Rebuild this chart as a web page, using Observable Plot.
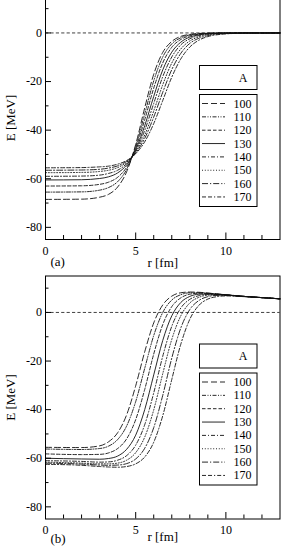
<!DOCTYPE html>
<html>
<head>
<meta charset="utf-8">
<script src="https://cdn.jsdelivr.net/npm/d3@7"></script>
<script src="https://cdn.jsdelivr.net/npm/@observablehq/plot@0.6"></script>
<style>
  html, body { margin: 0; padding: 0; background: #fff; }
  #fig { position: relative; width: 283px; height: 548px; overflow: hidden; background: #fff; }
  #fig .panel { position: absolute; left: 0; }
  #fig svg.legend { position: absolute; left: 0; top: 0; pointer-events: none; }
</style>
</head>
<body>
<div id="fig"></div>
<script>
// Mass numbers of the nuclei, one curve each
const massNumbers = [100, 110, 120, 130, 140, 150, 160, 170];

// Radial grid (fm) of the tabulated potentials
const radiiA = [0, 2, 3, 3.5, 4, 4.5, 5, 5.5, 6, 6.5, 7, 7.5, 8, 8.5, 9, 10, 11, 13];
const radiiB = [0, 2, 3, 3.5, 4, 4.5, 5, 5.5, 6, 6.5, 7, 7.5, 8, 8.5, 9, 9.5, 10, 11, 12, 13];

// Panel (a): potential E (MeV), one row per mass number
const energiesA = [
  [-68.5, -68.4, -67.6, -66.4, -63.4, -57.1, -45.9, -30.8, -17.0, -8.0, -3.5, -1.4, -0.6, -0.2, -0.1, 0, 0, 0],
  [-65.5, -65.4, -64.7, -63.6, -61.2, -56.1, -46.7, -33.3, -19.7, -9.9, -4.5, -2.0, -0.8, -0.4, -0.1, 0, 0, 0],
  [-63.0, -62.9, -62.3, -61.4, -59.4, -55.2, -47.4, -35.7, -22.7, -12.3, -5.9, -2.7, -1.2, -0.5, -0.2, 0, 0, 0],
  [-60.5, -60.4, -59.9, -59.2, -57.6, -54.3, -48.1, -38.2, -26.1, -15.2, -7.9, -3.8, -1.7, -0.8, -0.3, -0.1, 0, 0],
  [-59.0, -58.9, -58.5, -57.8, -56.5, -53.7, -48.6, -40.1, -29.0, -18.0, -9.9, -4.9, -2.4, -1.1, -0.5, -0.1, 0, 0],
  [-57.5, -57.4, -57.0, -56.5, -55.4, -53.2, -49.0, -42.0, -32.1, -21.3, -12.4, -6.6, -3.3, -1.6, -0.7, -0.2, 0, 0],
  [-56.5, -56.4, -56.1, -55.6, -54.7, -52.8, -49.4, -43.4, -34.6, -24.4, -15.1, -8.4, -4.3, -2.2, -1.1, -0.2, -0.1, 0],
  [-55.5, -55.4, -55.1, -54.8, -54.0, -52.5, -49.7, -44.8, -37.3, -27.8, -18.2, -10.7, -5.8, -3.0, -1.5, -0.4, -0.1, 0]
];

// Panel (b): potential E (MeV) including the Coulomb tail
const energiesB = [
  [-55.5, -55.6, -54.9, -53.2, -49.5, -42.1, -30.2, -16.2, -4.3, 3.1, 6.7, 8.1, 8.4, 8.3, 8.0, 7.6, 7.3, 6.6, 6.1, 5.6],
  [-56.2, -56.4, -56.0, -55.0, -52.3, -46.7, -36.7, -23.0, -9.5, 0.0, 5.1, 7.3, 8.1, 8.1, 7.9, 7.6, 7.3, 6.6, 6.1, 5.6],
  [-58.2, -58.5, -58.4, -57.8, -56.0, -52.0, -44.1, -31.7, -17.1, -5.0, 2.4, 6.0, 7.5, 7.9, 7.8, 7.5, 7.2, 6.6, 6.1, 5.6],
  [-60.0, -60.3, -60.4, -60.1, -59.1, -56.3, -50.5, -40.0, -25.7, -11.5, -1.4, 4.1, 6.6, 7.5, 7.6, 7.5, 7.2, 6.6, 6.1, 5.6],
  [-61.0, -61.3, -61.6, -61.5, -60.8, -58.9, -54.6, -46.2, -33.1, -18.0, -5.7, 1.8, 5.4, 6.9, 7.4, 7.4, 7.2, 6.6, 6.1, 5.6],
  [-61.6, -62.0, -62.3, -62.3, -62.0, -60.8, -57.7, -51.3, -40.1, -25.2, -11.1, -1.4, 3.9, 6.2, 7.1, 7.2, 7.1, 6.6, 6.1, 5.6],
  [-62.0, -62.4, -62.8, -62.9, -62.8, -62.2, -60.3, -55.9, -47.4, -34.1, -18.8, -6.4, 1.2, 4.9, 6.5, 7.0, 7.0, 6.6, 6.1, 5.6],
  [-62.5, -62.9, -63.4, -63.6, -63.7, -63.4, -62.3, -59.5, -53.4, -42.5, -27.6, -13.1, -2.8, 2.9, 5.5, 6.5, 6.8, 6.5, 6.1, 5.6]
];

// Axis ticks
const xMajorTicks = [0, 5, 10];
const xMinorTicks = [1, 2, 3, 4, 6, 7, 8, 9, 11, 12];
const yMajorTicks = [-80, -60, -40, -20, 0];
const yMinorTicks = [-70, -50, -30, -10, 10];
const yTickLabels = ["-80", "-60", "-40", "-20", "0"];

// Line styles for the eight nuclei
const dashPatterns = ["6,3", "4,1.5,1,1.5,1,1.5", "3.5,2", null, "4,2,1,2", "1,1.8", "6,2,1.2,2", "4,2,4,2,1.2,2"];

const FONT = "'Liberation Serif', 'Times New Roman', serif";
const W = 283, ML = 45, MR = 3.5, FRAME_H = 243;
const FRAME_W = W - ML - MR;

function panel(radii, energies, opts) {
  const rows = energies.flatMap((row, i) =>
    row.map((E, j) => ({r: radii[j], E, A: massNumbers[i]})));
  const marks = [
    Plot.ruleY([0], {strokeDasharray: "3.2,2.2", strokeWidth: 0.8, stroke: "#111"}),
    ...massNumbers.map((A, i) => Plot.line(rows.filter(d => d.A === A), {
      x: "r", y: "E", curve: "monotone-x",
      stroke: "#111", strokeWidth: 0.9,
      strokeDasharray: dashPatterns[i] ?? undefined
    })),
    Plot.tickY(yMinorTicks, {y: d => d, insetRight: FRAME_W - 3.5, stroke: "#000"}),
    Plot.tickY(yMajorTicks, {y: d => d, insetRight: FRAME_W - 6, stroke: "#000"}),
    Plot.tickX(xMinorTicks, {x: d => d, insetTop: FRAME_H - 4, stroke: "#000"}),
    Plot.tickX(xMajorTicks, {x: d => d, insetTop: FRAME_H - 6.5, stroke: "#000"}),
    Plot.axisY(yMajorTicks, {
      tickSize: 0, tickPadding: 3.5, label: null,
      tickFormat: d => yTickLabels[yMajorTicks.indexOf(d)],
      fontSize: 12
    }),
    Plot.axisY({
      ticks: [], tickSize: 0,
      label: "E [MeV]", labelAnchor: "center", labelOffset: 40, labelArrow: "none",
      fontSize: 13
    }),
    Plot.axisX(xMajorTicks, {
      tickSize: 0, tickPadding: opts.tickPad, label: null,
      tickFormat: d => String(d),
      fontSize: 12
    }),
    Plot.axisX({
      ticks: [], tickSize: 0,
      label: "r [fm]", labelAnchor: "center", labelOffset: opts.labelOffset, labelArrow: "none",
      fontSize: 13
    }),
    Plot.text([opts.tag], {
      text: d => d, frameAnchor: "bottom-left", textAnchor: "start",
      dx: 5, dy: opts.tagDy, fontSize: 13
    }),
    Plot.frame({stroke: "#000", strokeWidth: 1})
  ];
  const chart = Plot.plot({
    width: W,
    height: opts.marginTop + FRAME_H + opts.marginBottom,
    marginLeft: ML, marginRight: MR,
    marginTop: opts.marginTop, marginBottom: opts.marginBottom,
    x: {domain: [0, 13]},
    y: {domain: [-85, 15]},
    style: {fontFamily: FONT, fontSize: "12px", color: "#000", background: "transparent", overflow: "visible"},
    marks
  });
  const holder = document.createElement("div");
  holder.className = "panel";
  holder.style.top = opts.top + "px";
  holder.appendChild(chart);
  return holder;
}

const fig = document.getElementById("fig");
fig.appendChild(panel(radiiA, energiesA, {top: -9, marginTop: 5, marginBottom: 34, tag: "(a)", tagDy: 26.5, tickPad: 6.5, labelOffset: 27}));
fig.appendChild(panel(radiiB, energiesB, {top: 273.5, marginTop: 1.5, marginBottom: 31, tag: "(b)", tagDy: 23.5, tickPad: 6.5, labelOffset: 22}));

// Legend boxes drawn over each panel
const legendSvg = d3.select(fig).append("svg")
  .attr("class", "legend").attr("width", W).attr("height", 548)
  .attr("font-family", FONT).attr("font-size", 12);

function legend(top) {
  const g = legendSvg.append("g");
  g.append("rect").attr("x", 199.5).attr("y", top + 0.5).attr("width", 57.5).attr("height", 24)
    .attr("fill", "#fff").attr("stroke", "#000");
  g.append("text").attr("x", 247.5).attr("y", top + 16.5).attr("text-anchor", "end").text("A");
  const lt = top + 29;
  g.append("rect").attr("x", 199.5).attr("y", lt + 0.5).attr("width", 57.5).attr("height", 112)
    .attr("fill", "#fff").attr("stroke", "#000");
  massNumbers.forEach((A, i) => {
    const y = lt + 9.5 + i * 13.35;
    g.append("line").attr("x1", 202).attr("x2", 225).attr("y1", y).attr("y2", y)
      .attr("stroke", "#111").attr("stroke-width", 0.9)
      .attr("stroke-dasharray", dashPatterns[i]);
    g.append("text").attr("x", 233.5).attr("y", y + 4).text(A);
  });
}
legend(65);
legend(343.5);
</script>
</body>
</html>
